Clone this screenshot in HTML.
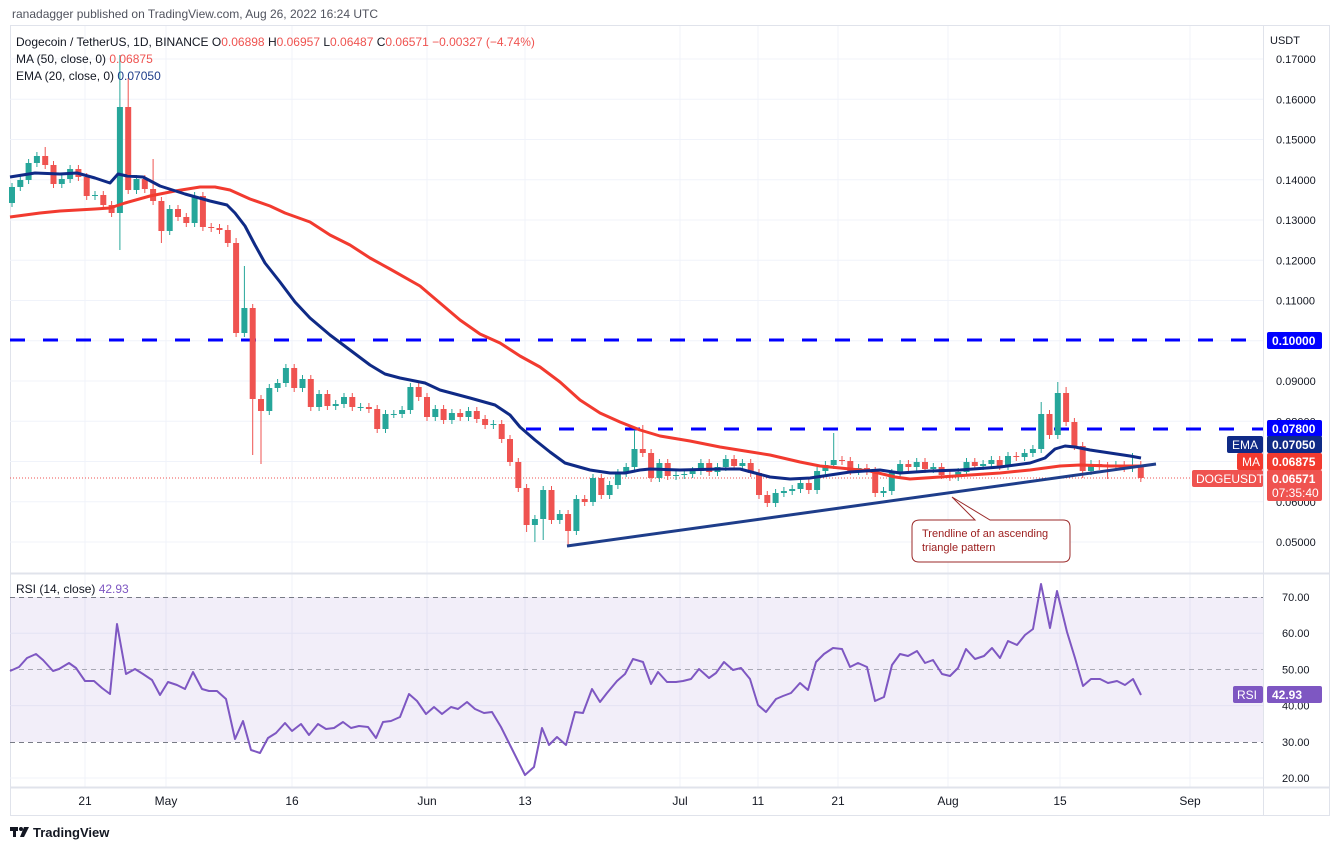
<!DOCTYPE html>
<html><head><meta charset="utf-8"><style>
html,body{margin:0;padding:0;background:#fff;width:1339px;height:850px;overflow:hidden;font-family:"Liberation Sans",sans-serif;}
svg{display:block}
</style></head><body>
<svg id="s" width="1339" height="850" xmlns="http://www.w3.org/2000/svg" font-family="Liberation Sans, sans-serif">
<rect x="0" y="0" width="1339" height="850" fill="#fff"/>
<text x="12" y="18" font-size="12" fill="#50535e">ranadagger published on TradingView.com, Aug 26, 2022 16:24 UTC</text>
<rect x="10.5" y="25.5" width="1319" height="790" fill="none" stroke="#e0e3eb"/>
<g id="grid" stroke="#f0f3fa" stroke-width="1"></g>
<rect x="10" y="597" width="1253" height="145" fill="#7e57c2" fill-opacity="0.1"/>
<g stroke="#787b86" stroke-dasharray="5,4" stroke-width="1">
<line x1="10" y1="597.5" x2="1263" y2="597.5"/><line x1="10" y1="669.5" x2="1263" y2="669.5" stroke-opacity="0.6"/><line x1="10" y1="742.5" x2="1263" y2="742.5"/>
</g>
<line x1="10" y1="573.5" x2="1330" y2="573.5" stroke="#e0e3eb" stroke-width="2"/>
<line x1="10" y1="787.5" x2="1330" y2="787.5" stroke="#e0e3eb" stroke-width="2"/>
<line x1="1263.5" y1="25" x2="1263.5" y2="815" stroke="#e0e3eb"/>
<line x1="10" y1="340" x2="1263" y2="340" stroke="#0000ff" stroke-width="3" stroke-dasharray="15,18"/>
<line x1="526" y1="429" x2="1263" y2="429" stroke="#0000ff" stroke-width="3" stroke-dasharray="15,18"/>
<line x1="10" y1="478" x2="1263" y2="478" stroke="#ef5350" stroke-width="1" stroke-dasharray="1,2"/>
<g id="candles"></g>
<polyline fill="none" stroke="#f23a2f" stroke-width="3" stroke-linejoin="round" points="10,217 40,213 60,211 95,209 110,208 125,203 150,196 175,191 200,187 215,187 230,190 250,199 270,206 285,213 310,222 330,235 350,245 370,258 390,269 420,286 440,303 460,320 480,334 500,343 520,356 540,367 560,382 580,400 600,413 620,422 640,430 660,436 690,441 720,447 745,451 770,455 800,462 820,466 840,468 850,469 870,471 895,477 910,479 940,477 970,475 1000,473 1030,470 1060,466 1080,465 1110,466 1141,466"/>
<polyline fill="none" stroke="#0f2a86" stroke-width="3" stroke-linejoin="round" points="10,177 35,173 60,174 77,173 95,178 110,183 118,174 127,176 143,177 160,186 185,194 210,201 227,205 235,213 245,226 255,245 265,263 280,282 295,302 310,318 330,335 350,350 370,365 385,374 400,378 425,383 440,390 470,398 495,405 510,415 520,427 535,440 550,452 565,463 590,470 610,473 625,473 640,470 650,469 680,470 720,469 740,469 755,473 770,477 790,479 810,478 830,475 850,472 880,470 900,473 930,471 960,470 1000,467 1030,463 1045,458 1055,449 1065,446 1075,447 1090,450 1110,453 1130,456 1141,458"/>
<line x1="567" y1="546" x2="1156" y2="464" stroke="#1e3d8a" stroke-width="3"/>
<path d="M920,520 L975,520 L952,497 L990,520 L1063,520 Q1070,520 1070,527 L1070,555 Q1070,562 1063,562 L919,562 Q912,562 912,555 L912,527 Q912,520 920,520 Z" fill="#fff" stroke="#9b2a2a" stroke-width="1"/>
<text x="922" y="537" font-size="11" fill="#9b1c1c">Trendline of an ascending</text>
<text x="922" y="551" font-size="11" fill="#9b1c1c">triangle pattern</text>
<polyline fill="none" stroke="#7e57c2" stroke-width="2" stroke-linejoin="round" points="10,671 19,667 27,658 36,654 43,660 53,671 59,669 69,663 76,668 85,681 94,681 102,688 110,694 117,624 126,674 135,669 143,674 152,680 160,695 168,682 177,685 185,689 193,672 202,689 209,691 217,691 226,699 235,739 243,721 251,750 260,753 268,738 276,733 285,723 292,731 301,724 309,735 318,724 326,729 334,728 343,722 351,728 359,726 368,727 376,738 383,722 391,721 400,717 409,694 417,701 426,714 434,707 442,714 451,707 458,709 467,702 475,709 484,713 492,712 501,727 510,745 517,759 525,775 534,767 542,728 549,745 557,737 566,745 575,712 583,713 592,689 600,702 607,693 617,681 625,674 633,659 643,662 651,684 658,672 667,682 676,682 683,681 691,679 699,669 709,678 716,673 724,662 733,670 741,668 750,679 758,705 766,712 776,699 783,696 791,693 800,683 808,690 816,662 824,654 833,648 842,649 850,667 858,663 867,667 875,701 884,697 892,665 900,654 908,656 917,651 925,663 933,660 942,674 950,676 958,668 966,649 975,659 984,656 992,648 1000,658 1008,641 1017,645 1025,635 1033,629 1041,584 1050,628 1057,591 1067,632 1075,658 1083,686 1091,679 1100,679 1108,683 1117,681 1125,685 1133,679 1141,695"/>
<g font-size="12">
<text x="16" y="46" fill="#131722">Dogecoin / TetherUS, 1D, BINANCE  <tspan>O</tspan><tspan fill="#ef5350">0.06898</tspan>  H<tspan fill="#ef5350">0.06957</tspan>  L<tspan fill="#ef5350">0.06487</tspan>  C<tspan fill="#ef5350">0.06571  −0.00327 (−4.74%)</tspan></text>
<text x="16" y="63" fill="#131722">MA (50, close, 0)  <tspan fill="#ef5350">0.06875</tspan></text>
<text x="16" y="80" fill="#131722">EMA (20, close, 0)  <tspan fill="#1e3d8a">0.07050</tspan></text>
<text x="16" y="593" fill="#131722">RSI (14, close)  <tspan fill="#7e57c2">42.93</tspan></text>
</g>
<g id="axis" font-size="11" fill="#131722"></g>
<text x="1270" y="44" font-size="11" fill="#131722">USDT</text>
<rect x="1267" y="332" width="55" height="17" rx="2" fill="#0000ff"/><text x="1272" y="345" font-size="12" font-weight="bold" fill="#fff">0.10000</text>
<rect x="1267" y="420" width="55" height="17" rx="2" fill="#0000ff"/><text x="1272" y="433" font-size="12" font-weight="bold" fill="#fff">0.07800</text>
<rect x="1227" y="436" width="36" height="17" rx="2" fill="#0f2a86"/><text x="1232" y="449" font-size="12" fill="#fff">EMA</text>
<rect x="1267" y="436" width="55" height="17" rx="2" fill="#0f2a86"/><text x="1272" y="449" font-size="12" font-weight="bold" fill="#fff">0.07050</text>
<rect x="1237" y="453" width="26" height="17" rx="2" fill="#f23a2f"/><text x="1242" y="466" font-size="12" fill="#fff">MA</text>
<rect x="1267" y="453" width="55" height="17" rx="2" fill="#f23a2f"/><text x="1272" y="466" font-size="12" font-weight="bold" fill="#fff">0.06875</text>
<rect x="1192" y="470" width="71" height="17" rx="2" fill="#ef5350"/><text x="1196" y="483" font-size="12" fill="#fff">DOGEUSDT</text>
<rect x="1267" y="470" width="55" height="31" rx="2" fill="#ef5350"/><text x="1272" y="483" font-size="12" font-weight="bold" fill="#fff">0.06571</text><text x="1272" y="497" font-size="12" fill="#fff">07:35:40</text>
<rect x="1233" y="686" width="30" height="17" rx="2" fill="#7e57c2"/><text x="1237" y="699" font-size="12" fill="#fff">RSI</text>
<rect x="1267" y="686" width="55" height="17" rx="2" fill="#7e57c2"/><text x="1272" y="699" font-size="12" font-weight="bold" fill="#fff">42.93</text>
<g font-size="12" fill="#131722" text-anchor="middle">
<text x="85" y="805">21</text><text x="166" y="805">May</text><text x="292" y="805">16</text><text x="427" y="805">Jun</text><text x="525" y="805">13</text><text x="680" y="805">Jul</text><text x="758" y="805">11</text><text x="838" y="805">21</text><text x="948" y="805">Aug</text><text x="1060" y="805">15</text><text x="1190" y="805">Sep</text>
</g>
<g transform="translate(10,825)"><rect x="0" y="2" width="8" height="4" fill="#131722"/><rect x="3" y="2" width="3" height="10" fill="#131722"/><circle cx="11" cy="4" r="2" fill="#131722"/><path d="M14,2 L19,2 L14,12 L10,12 Z" fill="#131722"/></g>
<text x="33" y="837" font-size="13" font-weight="bold" fill="#131722">TradingView</text>
</svg>
<script>
(function(){
var NS="http://www.w3.org/2000/svg";
function el(p,t,a){var e=document.createElementNS(NS,t);for(var k in a)e.setAttribute(k,a[k]);p.appendChild(e);return e;}
var gr=document.getElementById("grid");
[85,166,292,427,525,680,758,838,948,1060,1190].forEach(function(x){el(gr,"line",{x1:x,y1:26,x2:x,y2:787});});
var ax=document.getElementById("axis");
var labs=["0.17000","0.16000","0.15000","0.14000","0.13000","0.12000","0.11000","0.10000","0.09000","0.08000","0.07000","0.06000","0.05000"];
labs.forEach(function(l,i){var y=59+i*40.25;el(gr,"line",{x1:10,y1:y,x2:1263,y2:y});if(l!="0.10000"&&l!="0.07000"){var t=el(ax,"text",{x:1276,y:y+4});t.textContent=l;}});
[60,40,20].forEach(function(r){var y=778-(r-20)*3.62;el(gr,"line",{x1:10,y1:y,x2:1263,y2:y});});
[70,60,50,40,30,20].forEach(function(r){var y=778-(r-20)*3.62;var t=el(ax,"text",{x:1282,y:y+4});t.textContent=r.toFixed(2);});
var C=[187,180,163,156,165,184,179,169,177,196,195,205,213,107,190,179,189,201,231,209,217,223,196,227,228,230,243,333,308,399,411,388,383,368,388,379,407,394,406,404,397,407,407,409,429,414,414,410,387,397,417,409,420,413,417,411,419,425,424,439,462,488,525,519,490,520,514,531,499,502,478,495,485,473,467,449,453,478,463,476,475,474,471,463,472,467,459,466,463,473,495,503,493,491,489,483,490,471,465,460,461,471,468,471,493,491,473,464,467,462,469,467,475,477,472,462,466,464,460,466,456,457,453,449,414,435,393,422,446,471,464,466,467,465,468,465,478];
var HI={4:147,13:55,14:78,17:159,26:225,27:238,28:266,75:430,76:425,99:433,124:402,126:382,127:387,135:453};
var LO={13:250,18:243,29:455,30:464,62:532,63:542,64:540,67:545,129:478,132:479};
var cg=document.getElementById("candles");
for(var i=0;i<C.length;i++){
 var o=i==0?203:C[i-1], c=C[i], x=12+i*8.3;
 var col=(c<=o)?"#26a69a":"#ef5350";
 var bt=Math.min(o,c), bb=Math.max(o,c);
 var hh=(HI[i]!==undefined)?HI[i]:bt-4, ll=(LO[i]!==undefined)?LO[i]:bb+4;
 el(cg,"line",{x1:x,y1:hh,x2:x,y2:ll,stroke:col,"stroke-width":1});
 el(cg,"rect",{x:x-3,y:bt,width:6,height:Math.max(1,bb-bt),fill:col});
}
})();
</script>
</body></html>
